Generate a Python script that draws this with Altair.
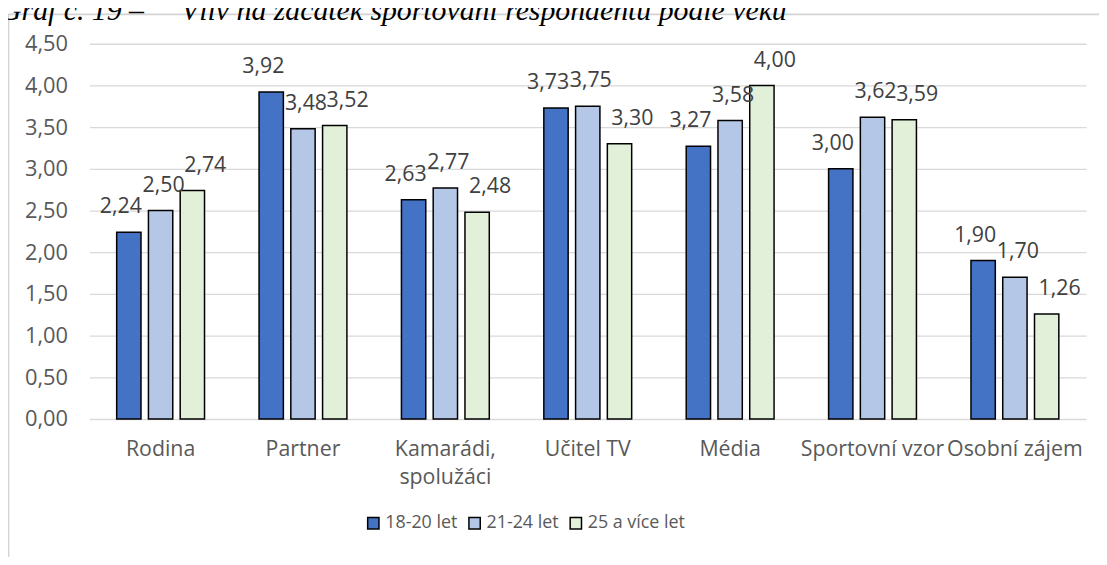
import altair as alt
import pandas as pd

categories = ["Rodina", "Partner", "Kamarádi, spolužáci", "Učitel TV", "Média",
              "Sportovní vzor", "Osobní zájem"]
series = ["18-20 let", "21-24 let", "25 a více let"]
values_18_20 = [2.24, 3.92, 2.63, 3.73, 3.27, 3.00, 1.90]
values_21_24 = [2.50, 3.48, 2.77, 3.75, 3.58, 3.62, 1.70]
values_25_plus = [2.74, 3.52, 2.48, 3.30, 4.00, 3.59, 1.26]
y_ticks = [0.0, 0.5, 1.0, 1.5, 2.0, 2.5, 3.0, 3.5, 4.0, 4.5]
colors = ["#4472C4", "#B4C7E7", "#E2F0D9"]
title_text = "Graf č. 19 –\u2003 Vliv na začátek sportování respondentů podle věku"

rows = []
for s, vals in zip(series, [values_18_20, values_21_24, values_25_plus]):
    for c, v in zip(categories, vals):
        rows.append({"kategorie": c, "skupina": s, "hodnota": v,
                     "popisek": f"{v:.2f}".replace(".", ",")})
df = pd.DataFrame(rows)

FONT = "Open Sans"

x_enc = alt.X("kategorie:N", sort=categories,
              scale=alt.Scale(domain=categories, paddingInner=0.383, paddingOuter=0.1915),
              axis=alt.Axis(title=None, labelAngle=0, domain=False, ticks=False,
                            labelPadding=20, labelFontSize=21.5, labelFont=FONT,
                            labelColor="#595959", labelLineHeight=28,
                            labelExpr="datum.value == 'Kamarádi, spolužáci' ? ['Kamarádi,', 'spolužáci'] : datum.label"))
xo_enc = alt.XOffset("skupina:N", sort=series,
                     scale=alt.Scale(domain=series, paddingInner=0.234, paddingOuter=0))
y_enc = alt.Y("hodnota:Q", scale=alt.Scale(domain=[0, 4.5], nice=False),
              axis=alt.Axis(title=None, values=y_ticks, domain=False, ticks=False,
                            gridColor="#d9d9d9", gridWidth=1.3, labelPadding=22,
                            labelFontSize=22, labelFont=FONT, labelColor="#595959",
                            labelExpr="replace(format(datum.value, '.2f'), '.', ',')"))

bars = alt.Chart(df).mark_bar(stroke="black", strokeWidth=1.5).encode(
    x=x_enc, xOffset=xo_enc, y=y_enc,
    color=alt.Color("skupina:N", sort=series,
                    scale=alt.Scale(domain=series, range=colors),
                    legend=alt.Legend(title=None, orient="none", legendX=277, legendY=474,
                                      direction="horizontal", symbolType="square",
                                      symbolSize=130, symbolStrokeColor="black",
                                      symbolStrokeWidth=1.5, symbolOpacity=1,
                                      labelFontSize=18, labelFont=FONT,
                                      labelColor="#595959", columnPadding=8,
                                      labelOffset=3))
)

label_dx = [-8, 3, 13]
label_layers = []
for s, ddx in zip(series, label_dx):
    label_layers.append(
        alt.Chart(df).transform_filter(alt.datum.skupina == s).mark_text(
            dy=-19, dx=ddx, baseline="alphabetic", align="center",
            fontSize=21.5, font=FONT, color="#404040"
        ).encode(x=alt.X("kategorie:N", sort=categories), xOffset=alt.XOffset("skupina:N", sort=series),
                 y=alt.Y("hodnota:Q"), text=alt.Text("popisek:N"))
    )

frame = alt.Chart(pd.DataFrame({"a": [0]})).mark_rect(
    fillOpacity=0, stroke="#d4d4d4", strokeWidth=1.8
).encode(x=alt.value(-81.5), x2=alt.value(1040), y=alt.value(-29.5), y2=alt.value(560))

title = alt.Chart(pd.DataFrame({"t": [title_text]})).mark_text(
    align="left", baseline="alphabetic", font="Liberation Serif", fontStyle="italic",
    fontSize=30, color="black"
).encode(x=alt.value(-90), y=alt.value(-24), text="t:N")

chart = alt.layer(frame, bars, *label_layers, title).properties(
    width=1004, height=378,
    padding={"left": 82, "top": 34, "right": 13, "bottom": 137},
    autosize=alt.AutoSizeParams(type="none"),
).configure_view(strokeWidth=0)

chart.save("out.html", embed_options={"renderer": "svg", "actions": False})
